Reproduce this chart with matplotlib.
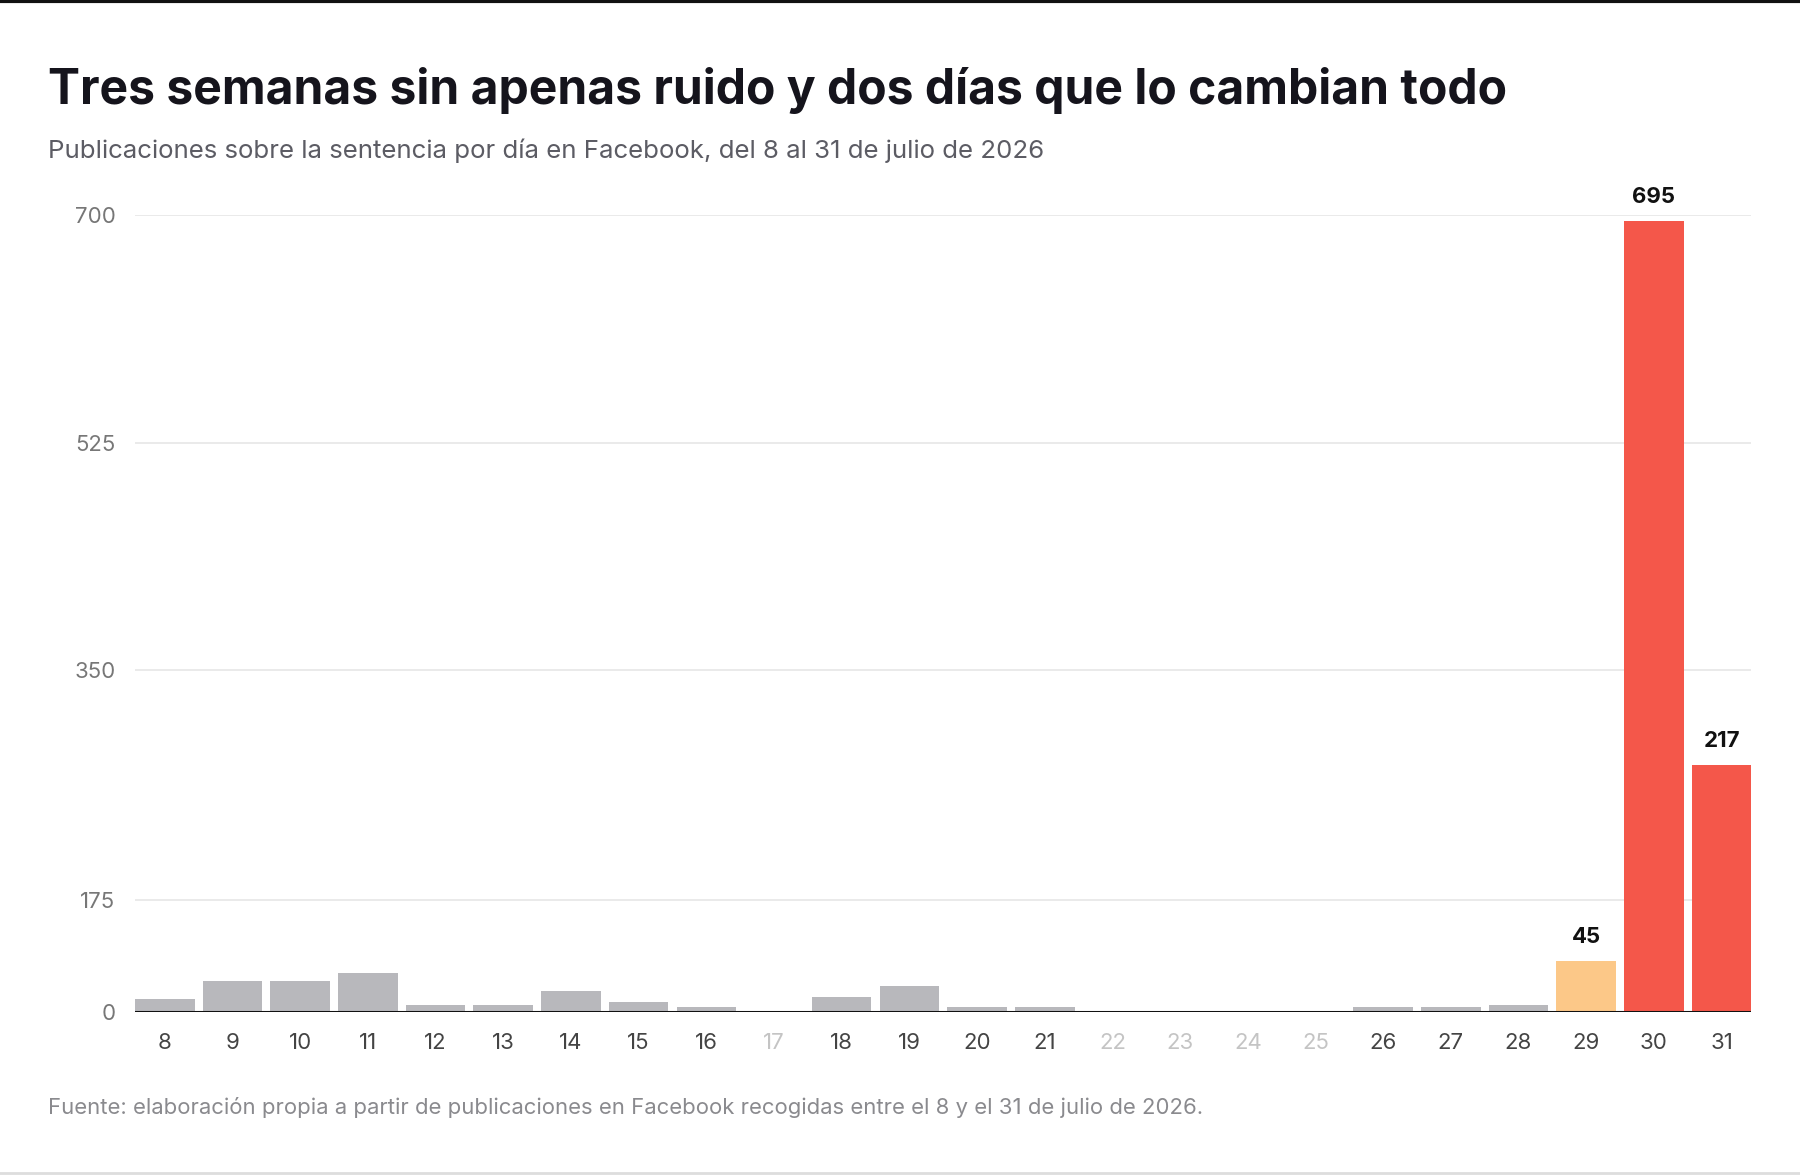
import matplotlib.pyplot as plt
import numpy as np

# daily posts, 8 to 31 July
days = [str(d) for d in range(8, 32)]
posts = [11, 27, 27, 34, 6, 6, 18, 9, 4, 0, 13, 23, 4, 4, 0, 0, 0, 0, 4, 4, 6, 45, 695, 217]
labelled = {"29": 45, "30": 695, "31": 217}
ytick_labels = ["0", "175", "350", "525", "700"]
# the original gridlines are not evenly spaced against the bar scale
ytick_pos = [0, 98, 300, 500, 700]

GRAY = "#b8b8bc"
ORANGE = "#fcc888"
RED = "#f4574a"

plt.rcParams['font.family'] = ['Inter', 'DejaVu Sans']

fig = plt.figure(figsize=(18, 11.76), dpi=100)
ax = fig.add_axes([0.075, 0.1395, 0.898, 0.6777])

colors = []
for d in days:
    if d == "29":
        colors.append(ORANGE)
    elif d in ("30", "31"):
        colors.append(RED)
    else:
        colors.append(GRAY)

x = np.arange(len(days))
ax.bar(x, posts, width=0.88, color=colors, zorder=2)

for i, d in enumerate(days):
    if d in labelled:
        ax.annotate(str(labelled[d]), (x[i], posts[i]), xytext=(0, 10), textcoords="offset points",
                    ha="center", va="bottom", fontsize=16, fontweight="bold", color="#111111")

ax.set_xlim(-0.44, len(days) - 1 + 0.44)
ax.set_ylim(0, 700)
ax.set_yticks(ytick_pos)
ax.set_yticklabels(ytick_labels, fontsize=16, color="#777777")
ax.set_xticks(x)
ax.set_xticklabels(days, fontsize=16)
for lbl, v in zip(ax.get_xticklabels(), posts):
    lbl.set_color("#c4c4c4" if v == 0 else "#444444")

ax.tick_params(axis="both", length=0)
ax.tick_params(axis="x", pad=15)
ax.tick_params(axis="y", pad=14)
for s in ax.spines.values():
    s.set_visible(False)
ax.grid(axis="y", color="#e8e8e8", lw=1.3, zorder=0)
ax.axhline(0, color="#111111", lw=2.2, zorder=3)

fig.text(0.0267, 0.923, "Tres semanas sin apenas ruido y dos días que lo cambian todo",
         fontsize=34.6, fontweight="bold", color="#15141c", va="center", ha="left")
fig.text(0.0267, 0.872, "Publicaciones sobre la sentencia por día en Facebook, del 8 al 31 de julio de 2026",
         fontsize=18.6, color="#5c5c64", va="center", ha="left")
fig.text(0.0267, 0.0585, "Fuente: elaboración propia a partir de publicaciones en Facebook recogidas entre el 8 y el 31 de julio de 2026.",
         fontsize=15.9, color="#8a8a8e", va="center", ha="left")

# frame lines at top and bottom of the card
fig.add_artist(plt.Line2D([0, 1], [0.999, 0.999], color="#111111", lw=3))
fig.add_artist(plt.Line2D([0, 1], [0.0025, 0.0025], color="#dddddd", lw=2))

fig.savefig("out.png", dpi=100, facecolor="white")
